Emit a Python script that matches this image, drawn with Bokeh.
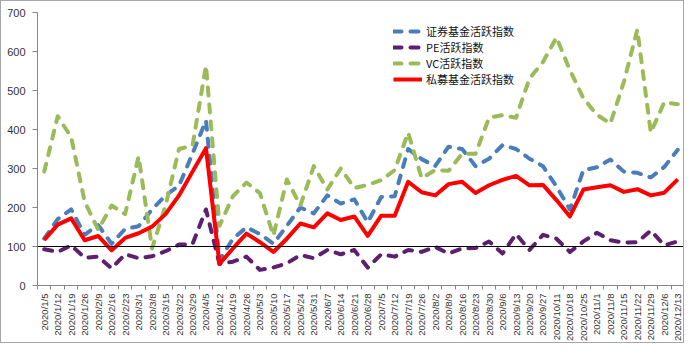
from math import pi
from bokeh.plotting import figure
from bokeh.models import Range1d, FixedTicker, Span, Legend, LegendItem
from bokeh.embed import file_html
from bokeh.resources import INLINE

dates = ["2020/1/5", "2020/1/12", "2020/1/19", "2020/1/26", "2020/2/9", "2020/2/16",
         "2020/2/23", "2020/3/1", "2020/3/8", "2020/3/15", "2020/3/22", "2020/3/29",
         "2020/4/5", "2020/4/12", "2020/4/19", "2020/4/26", "2020/5/3", "2020/5/10",
         "2020/5/17", "2020/5/24", "2020/5/31", "2020/6/7", "2020/6/14", "2020/6/21",
         "2020/6/28", "2020/7/5", "2020/7/12", "2020/7/19", "2020/7/26", "2020/8/2",
         "2020/8/9", "2020/8/16", "2020/8/23", "2020/8/30", "2020/9/6", "2020/9/13",
         "2020/9/20", "2020/9/27", "2020/10/11", "2020/10/18", "2020/10/25", "2020/11/1",
         "2020/11/8", "2020/11/15", "2020/11/22", "2020/11/29", "2020/12/6", "2020/12/13"]

securities_fund = [120, 170, 195, 130, 155, 107, 145, 152, 195, 231, 256, 338,
                   423, 65, 120, 149, 132, 107, 153, 200, 185, 231, 210, 221,
                   162, 227, 229, 350, 324, 306, 356, 350, 306, 325, 360, 350,
                   325, 306, 254, 195, 296, 303, 323, 292, 289, 277, 304, 348]

pe_index = [93, 86, 103, 71, 74, 44, 80, 70, 75, 88, 105, 106,
            195, 55, 61, 74, 40, 46, 57, 78, 70, 91, 80, 91,
            46, 80, 74, 91, 86, 99, 82, 95, 96, 113, 82, 132,
            91, 130, 120, 86, 113, 135, 116, 110, 111, 141, 103, 113]

vc_index = [292, 434, 380, 215, 143, 205, 183, 331, 95, 205, 350, 359,
            564, 153, 229, 264, 237, 128, 272, 205, 306, 246, 300, 250,
            258, 270, 296, 392, 275, 296, 294, 338, 338, 430, 437, 430,
            531, 573, 636, 552, 480, 438, 415, 522, 656, 392, 470, 465]

private_fund = [117, 156, 172, 116, 127, 90, 122, 134, 151, 183, 231, 292,
                352, 55, 95, 133, 111, 86, 120, 159, 149, 185, 168, 177,
                127, 179, 179, 266, 239, 231, 260, 266, 237, 257, 271, 281,
                257, 258, 219, 177, 246, 252, 257, 240, 247, 231, 238, 272]

series_names = ["证券基金活跃指数", "PE活跃指数", "VC活跃指数", "私募基金活跃指数"]
y_ticks = [0, 100, 200, 300, 400, 500, 600, 700]
baseline = 100

x = list(range(len(dates)))

p = figure(width=684, height=343, output_backend="svg", toolbar_location=None,
           x_range=Range1d(-0.5, len(dates) - 0.5), y_range=Range1d(0, 700),
           min_border_left=36, min_border_right=1, min_border_top=11, min_border_bottom=57)
p.xgrid.grid_line_color = None
p.ygrid.grid_line_color = None
p.outline_line_color = None
p.background_fill_color = "white"
p.styles = {"border": "1px solid #a6a6a6"}

# axes
p.xaxis.ticker = FixedTicker(ticks=x, minor_ticks=[i - 0.5 for i in range(len(dates) + 1)])
p.xaxis.major_label_overrides = {i: d for i, d in enumerate(dates)}
p.xaxis.major_label_orientation = pi / 2
p.xaxis.major_tick_line_color = None
p.xaxis.minor_tick_line_color = "#868686"
p.xaxis.minor_tick_in = 0
p.xaxis.minor_tick_out = 4
p.xaxis.major_label_standoff = 2
p.xaxis.major_label_text_font = "Liberation Sans"
p.xaxis.major_label_text_font_size = "9.5px"
p.xaxis.major_label_text_color = "#333333"
p.xaxis.axis_line_color = "#868686"

p.yaxis.ticker = FixedTicker(ticks=y_ticks)
p.yaxis.minor_tick_line_color = None
p.yaxis.major_tick_in = 0
p.yaxis.major_tick_out = 5
p.yaxis.major_tick_line_color = "#868686"
p.yaxis.axis_line_color = "#868686"
p.yaxis.major_label_standoff = 7
p.yaxis.major_label_text_font = "Liberation Sans"
p.yaxis.major_label_text_font_size = "11px"
p.yaxis.major_label_text_color = "#333333"

p.add_layout(Span(location=baseline, dimension="width", line_color="black", line_width=1))

r1 = p.line(x, securities_fund, line_color="#4A7EBB", line_width=4, line_dash="8 9",
            line_cap="round", line_join="round")
r2 = p.line(x, pe_index, line_color="#5F1F6F", line_width=4, line_dash="8 9",
            line_cap="round", line_join="round")
r3 = p.line(x, vc_index, line_color="#9BBB59", line_width=4, line_dash="8 9",
            line_cap="round", line_join="round")
r4 = p.line(x, private_fund, line_color="#FF0000", line_width=4, line_join="round")

legend = Legend(items=[LegendItem(label=series_names[0], renderers=[r1]),
                       LegendItem(label=series_names[1], renderers=[r2]),
                       LegendItem(label=series_names[2], renderers=[r3]),
                       LegendItem(label=series_names[3], renderers=[r4])],
                location=(356, 198))
legend.label_text_font = "Noto Sans CJK SC"
legend.label_text_font_size = "11px"
legend.label_text_color = "#111111"
legend.glyph_width = 29
legend.glyph_height = 16
legend.label_height = 16
legend.spacing = 0
legend.padding = 4
legend.margin = 0
legend.label_standoff = 4
legend.border_line_color = None
legend.background_fill_alpha = 0
p.add_layout(legend)

open("out.html", "w").write(file_html(p, INLINE))
